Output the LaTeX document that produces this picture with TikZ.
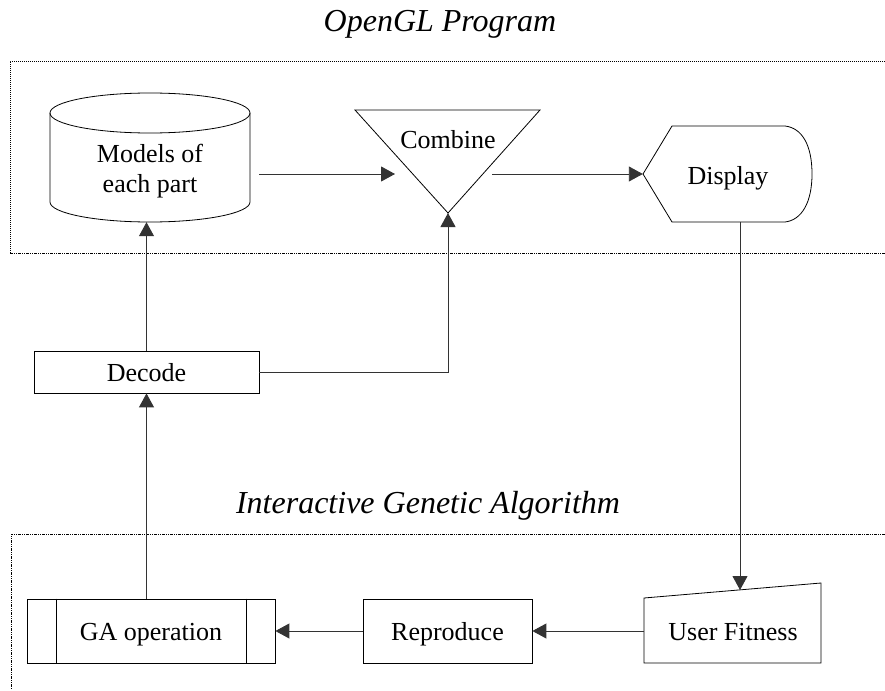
\documentclass[tikz,border=0pt]{standalone}
\usepackage{fontspec}
\setmainfont{Liberation Serif}
\usetikzlibrary{arrows.meta,calc}
\begin{document}
\begin{tikzpicture}[x=1pt,y=-1pt,
  shp/.style={draw=black,line width=0.8pt},
  conn/.style={draw=black!80,line width=0.9pt},
  arr/.style={conn,-{Triangle[length=14pt,width=15pt]}},
  lbl/.style={font=\fontsize{26}{30}\selectfont,inner sep=0pt,anchor=base},
  ttl/.style={font=\fontsize{32}{36}\selectfont\itshape,inner sep=0pt,anchor=base},
  boxn/.style={shp,rectangle,inner sep=0pt,font=\fontsize{26}{30}\selectfont,text height=18pt,text depth=0pt},
  ghost/.style={rectangle,inner sep=0pt,draw=none},
  topline/.style={line width=0.6pt,dash pattern=on 1pt off 1pt},
  botline/.style={line width=0.6pt,dash pattern=on 3pt off 1pt on 1pt off 1pt on 1pt off 1pt}]
\useasboundingbox (0,0) rectangle (885,690);

% group frames
\draw[topline] (885,61) -- (10,61) -- (10,253);
\draw[botline] (10,253) -- (885,253);
\draw[botline] (885,534) -- (11,534) -- (11,690);

% titles
\node[ttl] (t1) at (440,32) {OpenGL Program};
\node[ttl] (t2) at (428,513) {Interactive Genetic Algorithm};

% cylinder: Models of each part
\node[ghost,minimum width=200pt,minimum height=129pt] (models) at (150,157.5) {};
\draw[shp] (150,113) ellipse [x radius=100, y radius=20];
\draw[shp] (50,113) -- (50,202)
  .. controls (50,213.05) and (94.77,222) .. (150,222)
  .. controls (205.23,222) and (250,213.05) .. (250,202) -- (250,113);
\node[lbl] (m1) at (150,162) {Models of};
\node[lbl] (m2) at (150,192) {each part};

% triangle: Combine
\coordinate (apex) at (448,213);
\draw[shp] (355,110) -- (540,110) -- (apex) -- cycle;
\node[lbl] (combine) at (448,148) {Combine};

% display shape
\node[ghost,minimum width=169pt,minimum height=96pt] (display) at (727.5,174) {};
\draw[shp] (643,174) -- (672,126) -- (785,126)
  .. controls (802,128) and (812,145) .. (812,174)
  .. controls (812,202) and (802,220) .. (785,222) -- (672,222) -- cycle;
\node[lbl] (dtext) at (728,184) {Display};

% user fitness
\node[ghost,minimum width=177pt,minimum height=80pt] (uf) at (732.5,623) {};
\draw[shp] (644,598) -- (821,583) -- (821,663) -- (644,663) -- cycle;
\node[lbl] (uftext) at (733,640) {User Fitness};

% boxes
\node[boxn,minimum width=225pt,minimum height=42pt] (decode) at (146.5,372) {Decode};
\node[boxn,minimum width=169pt,minimum height=64pt] (repro) at (447.5,631) {Reproduce};
\node[boxn,minimum width=248pt,minimum height=64pt] (gaop) at (151,631) {GA operation};
\draw[shp] ($(gaop.north west)+(30,0)$) -- ($(gaop.south west)+(30,0)$);
\draw[shp] ($(gaop.north east)+(-29,0)$) -- ($(gaop.south east)+(-29,0)$);

% connector end points
\coordinate (mOut) at (259,174);
\coordinate (cIn) at (395,174);
\coordinate (cOut) at (492,174);
\coordinate (dOut) at (740,222);
\coordinate (ufIn) at (740,590);

% connectors
\draw[arr] (mOut) -- (cIn);
\draw[arr] (cOut) -- (display.west);
\draw[arr] (dOut) -- (ufIn);
\draw[arr] (repro.east -| uf.west) -- (repro.east);
\draw[arr] (repro.west) -- (gaop.east);
\draw[arr] (decode.south |- gaop.north) -- (decode.south);
\draw[arr] (decode.north) -- (decode.north |- models.south);
\draw[arr] (decode.east) -| (apex);
\end{tikzpicture}
\end{document}
